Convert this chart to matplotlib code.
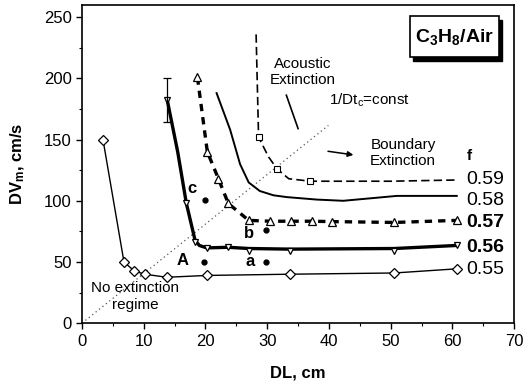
import matplotlib
matplotlib.use("Agg")
import matplotlib.pyplot as plt
from matplotlib.ticker import MultipleLocator
from matplotlib.patches import FancyBboxPatch

plt.rcParams['font.family'] = ['Liberation Sans', 'DejaVu Sans']
plt.rcParams['mathtext.fontset'] = 'custom'
plt.rcParams['mathtext.rm'] = 'Liberation Sans'
plt.rcParams['mathtext.bf'] = 'Liberation Sans:bold'
plt.rcParams['mathtext.it'] = 'Liberation Sans:italic'

# f = 0.55 (open diamonds)
dl_055 = [3.4, 6.8, 8.5, 10.2, 13.7, 20.3, 33.7, 50.6, 60.7]
dv_055 = [150, 50, 42.5, 40, 37.5, 39, 40, 41, 44.4]

# f = 0.56 (down triangles, thick)
dl_056 = [13.8, 15.5, 16.9, 18.3, 19.0, 20.2, 23.7, 27.0, 33.7, 50.6, 60.7]
dv_056 = [182.5, 140, 98, 68, 63.5, 61.5, 62, 61, 60.5, 61, 63.5]
dl_056_mk = [13.8, 16.9, 18.3, 20.2, 23.7, 27.0, 33.7, 50.6, 60.7]
dv_056_mk = [182.5, 98, 66, 61.5, 62, 59, 59, 59, 63.5]
err_056 = 18

# f = 0.57 (up triangles, dashed)
dl_057 = [18.7, 20.3, 22.1, 23.7, 27.0, 30.5, 33.8, 37.2, 40.5, 50.6, 60.7]
dv_057 = [200.8, 140, 118, 97.8, 84, 83.3, 83.3, 83.3, 83, 82.3, 84]

# f = 0.58 (solid curve)
dl_058 = [21.8, 24.0, 25.6, 27.0, 28.8, 31.0, 33.2, 38.0, 42.3, 51.0, 60.7]
dv_058 = [188, 158, 130, 115, 108, 104.5, 103, 101, 100, 104, 104]

# f = 0.59 (squares, dashed)
dl_059 = [28.2, 28.6, 30.2, 31.6, 33.5, 37.0, 50.0, 60.7]
dv_059 = [236, 152, 136, 126, 118, 116, 116, 117]

# operating points
pt_x = [19.9, 29.8, 19.8, 29.8]
pt_y = [100.5, 76, 50, 50]
pt_names = ['c', 'b', 'A', 'a']
pt_lbl_x = [18.6, 27.9, 17.2, 27.9]
pt_lbl_y = [110, 73.3, 51.5, 50]

f_values = ['0.59', '0.58', '0.57', '0.56', '0.55']
f_label_y = [117.6, 100.5, 82.5, 62, 44]
f_bold = [False, False, True, True, False]

# 1/Dt_c = const line
slope_const = 4.05
const_x = [0, 39.9]

fig = plt.figure(figsize=(5.29, 3.87), dpi=100)
ax = fig.add_axes([0.155, 0.165, 0.817, 0.822])

ax.plot(const_x, [slope_const * x for x in const_x], linestyle=(0, (1, 2.5)),
        color='#555555', lw=0.9)

ax.plot(dl_055, dv_055, '-', color='black', lw=1.0, marker='D', ms=5,
        mfc='white', mec='black', mew=0.9)

ax.plot(dl_056, dv_056, '-', color='black', lw=2.4)
ax.plot(dl_056_mk, dv_056_mk, 'v', ms=5, mfc='white', mec='black', mew=0.9)
ax.errorbar([dl_056[0]], [dv_056[0]], yerr=err_056, fmt='none', ecolor='black',
            elinewidth=0.9, capsize=3, capthick=0.9)

ax.plot(dl_057, dv_057, color='black', lw=2.4, linestyle=(0, (2.2, 1.8)))
ax.plot(dl_057, dv_057, '^', ms=6, mfc='white', mec='black', mew=0.9)

ax.plot(dl_058, dv_058, '-', color='black', lw=1.4)

ax.plot(dl_059, dv_059, color='black', lw=1.2, linestyle=(0, (5, 2.5)))
ax.plot(dl_059[1:4:2] + [dl_059[5]], [dv_059[1], dv_059[3], dv_059[5]], 's', ms=4,
        mfc='white', mec='black', mew=0.8)

ax.plot(pt_x, pt_y, 'o', color='black', ms=3.5)
for nx, ny, name in zip(pt_lbl_x, pt_lbl_y, pt_names):
    ax.text(nx, ny, name, ha='right', va='center', fontsize=12, fontweight='bold')

for yv, lbl, bold in zip(f_label_y, f_values, f_bold):
    ax.text(62.3, yv, lbl, ha='left', va='center', fontsize=14,
            fontweight='bold' if bold else 'normal')
ax.text(62.7, 137, 'f', ha='center', va='center', fontsize=11, fontweight='bold')

ax.text(35.8, 205, 'Acoustic\nExtinction', ha='center', va='center', fontsize=11,
        linespacing=1.2)
ax.plot([33.1, 35.0], [186.3, 159], color='black', lw=1.2)
ax.text(46.5, 182, r'1/Dt$_\mathrm{c}$=const', ha='center', va='center', fontsize=11)
ax.annotate('', xy=(44.4, 137.2), xytext=(39.4, 140.8),
            arrowprops=dict(arrowstyle='-|>', color='black', lw=1.1,
                            mutation_scale=8))
ax.text(52.0, 139, 'Boundary\nExtinction', ha='center', va='center', fontsize=11,
        linespacing=1.2)
ax.text(8.6, 22, 'No extinction\nregime', ha='center', va='center', fontsize=11,
        linespacing=1.25)

# title box with drop shadow
bx0, by0, bw, bh = 0.775, 0.852, 0.168, 0.106
fig.patches.append(FancyBboxPatch((bx0 + 0.006, by0 - 0.009), bw, bh,
                                  boxstyle='square,pad=0', transform=fig.transFigure,
                                  facecolor='black', edgecolor='black'))
fig.patches.append(FancyBboxPatch((bx0, by0), bw, bh, boxstyle='square,pad=0',
                                  transform=fig.transFigure, facecolor='white',
                                  edgecolor='black', lw=1.2))
fig.text(bx0 + bw / 2, by0 + bh / 2, r'C$_\mathbf{3}$H$_\mathbf{8}$/Air', ha='center',
         va='center', fontsize=14, fontweight='bold')

ax.set_xlim(0, 70)
ax.set_ylim(0, 260)
ax.xaxis.set_major_locator(MultipleLocator(10))
ax.xaxis.set_minor_locator(MultipleLocator(5))
ax.yaxis.set_major_locator(MultipleLocator(50))
ax.yaxis.set_minor_locator(MultipleLocator(25))
ax.tick_params(which='major', direction='out', length=4, width=1.0, labelsize=12)
ax.tick_params(which='minor', direction='out', length=2.5, width=0.8)
for sp in ax.spines.values():
    sp.set_linewidth(1.2)

ax.set_xlabel('DL, cm', fontsize=12, fontweight='bold', labelpad=12)
ax.set_ylabel(r'DV$_\mathbf{m}$, cm/s', fontsize=12, fontweight='bold', labelpad=12)

fig.savefig('out.png', dpi=100)
